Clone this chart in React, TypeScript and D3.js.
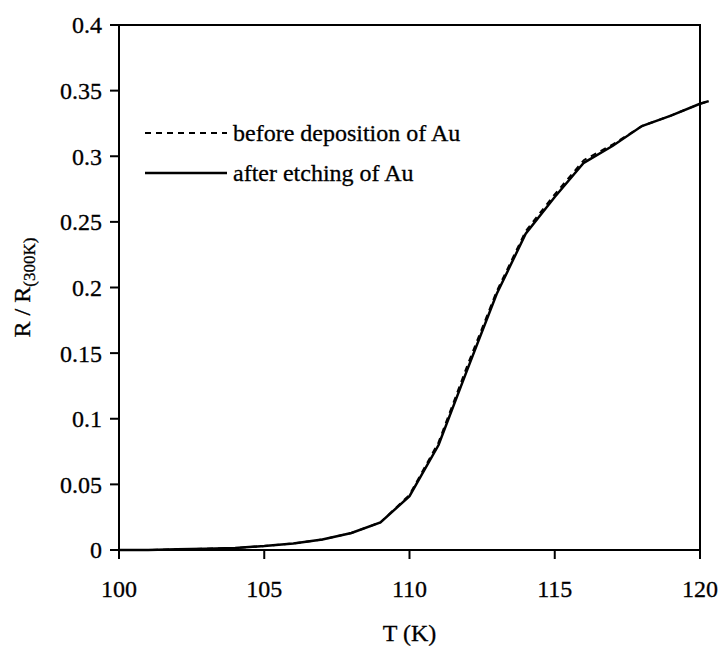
import React from "react";
import * as d3 from "d3";

// temperatures (K) and R / R(300K)
const tempAfter = [100, 101, 102, 103, 104, 105, 106, 107, 108, 109, 110, 111, 112, 113, 114, 115, 116, 117, 118, 119, 120, 120.3];
const ratioAfter = [0, 0, 0.0005, 0.001, 0.0015, 0.003, 0.005, 0.008, 0.013, 0.021, 0.041, 0.08, 0.138, 0.195, 0.241, 0.269, 0.295, 0.308, 0.323, 0.331, 0.34, 0.342];

const tempBefore = [100, 101, 102, 103, 104, 105, 106, 107, 108, 109, 110, 111, 112, 113, 114, 115, 116, 117, 118, 119, 120, 120.3];
const ratioBefore = [0, 0, 0.0005, 0.001, 0.0015, 0.003, 0.005, 0.008, 0.013, 0.021, 0.042, 0.082, 0.141, 0.197, 0.243, 0.271, 0.297, 0.309, 0.323, 0.331, 0.34, 0.342];

const xTicks = [100, 105, 110, 115, 120];
const yTicks = [0, 0.05, 0.1, 0.15, 0.2, 0.25, 0.3, 0.35, 0.4];

const legendLabels = ["before deposition of Au", "after etching of Au"];

const W = 719;
const H = 649;
const plot = { left: 119, right: 700, top: 25, bottom: 550 };
const font = "'Liberation Serif', 'Times New Roman', serif";

const App = () => {
  const x = d3.scaleLinear().domain([100, 120]).range([plot.left, plot.right]);
  const y = d3.scaleLinear().domain([0, 0.4]).range([plot.bottom, plot.top]);

  // polyline through the read points
  const makePath = (ts: number[], rs: number[]) =>
    d3
      .line<number>()
      .x((t) => x(t))
      .y((_, i) => y(rs[i]))(ts) || "";

  return (
    <div style={{ position: "absolute", left: 0, top: 0 }}>
      <svg width={W} height={H} style={{ display: "block", background: "#fff" }} fontFamily={font}>
        {/* plot frame */}
        <rect
          x={plot.left}
          y={plot.top}
          width={plot.right - plot.left}
          height={plot.bottom - plot.top}
          fill="none"
          stroke="#000"
          strokeWidth={2}
        />

        {/* y ticks */}
        {yTicks.map((t) => (
          <g key={"y" + t}>
            <line x1={plot.left - 9} x2={plot.left} y1={y(t)} y2={y(t)} stroke="#000" strokeWidth={2} />
            <text x={plot.left - 17} y={y(t)} dy="0.35em" textAnchor="end" fontSize={24} stroke="#000" strokeWidth={0.3}>
              {t === 0 ? "0" : d3.format("")(+t.toFixed(2))}
            </text>
          </g>
        ))}

        {/* x ticks */}
        {xTicks.map((t) => (
          <g key={"x" + t}>
            <line x1={x(t)} x2={x(t)} y1={plot.bottom} y2={plot.bottom + 9} stroke="#000" strokeWidth={2} />
            <text x={x(t)} y={597} textAnchor="middle" fontSize={24} stroke="#000" strokeWidth={0.3}>
              {t}
            </text>
          </g>
        ))}

        {/* series */}
        <path d={makePath(tempBefore, ratioBefore)} fill="none" stroke="#000" strokeWidth={2} strokeDasharray="6,5" />
        <path d={makePath(tempAfter, ratioAfter)} fill="none" stroke="#000" strokeWidth={2.5} />

        {/* legend */}
        <line x1={145} x2={227} y1={133} y2={133} stroke="#000" strokeWidth={2} strokeDasharray="6,5" />
        <text x={233} y={141} fontSize={24} stroke="#000" strokeWidth={0.3}>{legendLabels[0]}</text>
        <line x1={145} x2={227} y1={173} y2={173} stroke="#000" strokeWidth={2.5} />
        <text x={233} y={181} fontSize={24} stroke="#000" strokeWidth={0.3}>{legendLabels[1]}</text>

        {/* axis titles */}
        <text x={(plot.left + plot.right) / 2} y={641} textAnchor="middle" fontSize={24} stroke="#000" strokeWidth={0.3}>
          T (K)
        </text>
        <text
          transform={`translate(30, ${(plot.top + plot.bottom) / 2}) rotate(-90)`}
          textAnchor="middle"
          fontSize={24}
          stroke="#000"
          strokeWidth={0.3}
        >
          R / R
          <tspan fontSize={17} dy={5}>(300K)</tspan>
        </text>
      </svg>
    </div>
  );
};

export default App;
